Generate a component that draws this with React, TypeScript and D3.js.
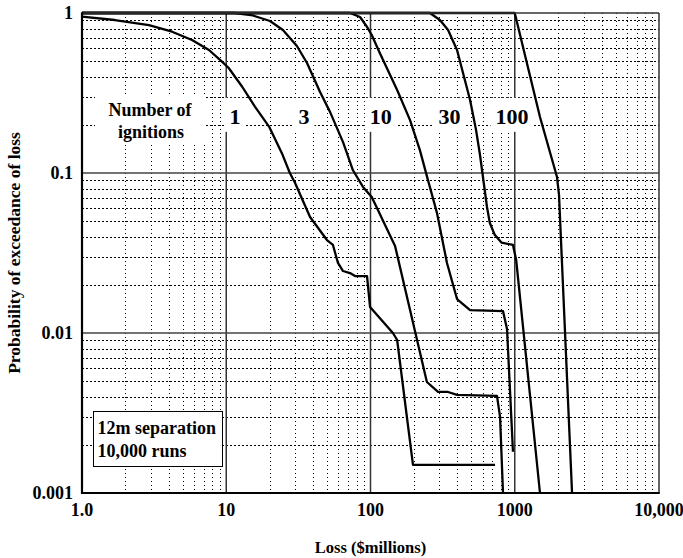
import * as d3 from "d3";
import { useEffect, useRef } from "react";

type Pt = [number, number];

// loss ($millions), probability of exceedance
const oneIgnition: Pt[] = [
  [1, 0.948], [1.69, 0.904], [2.91, 0.841], [4.21, 0.764], [5.79, 0.678],
  [7.59, 0.587], [9.34, 0.496], [10.4, 0.453], [12.9, 0.346], [15.8, 0.26],
  [19.8, 0.195], [24.3, 0.133], [27.6, 0.1], [30.0, 0.0866], [38.1, 0.0531],
  [49.9, 0.0381], [54.9, 0.0355], [59.5, 0.0274], [64.5, 0.0244], [72.1, 0.0237],
  [78.1, 0.0227], [94.6, 0.0227], [99.3, 0.01455], [143, 0.01], [153, 0.00904],
  [197, 0.0015], [730, 0.0015],
];
const threeIgnitions: Pt[] = [
  [1, 1], [11.5, 1], [15.3, 0.965], [20.1, 0.891], [24.7, 0.783], [30.9, 0.622],
  [36.3, 0.487], [44.7, 0.321], [52.4, 0.241], [64.5, 0.156], [75.6, 0.104],
  [88.7, 0.0818], [102, 0.0708], [148, 0.035], [246, 0.00494], [294, 0.00428],
  [345, 0.00428], [398, 0.0041], [753, 0.00405], [791, 0.00299], [829, 0.001],
];
const tenIgnitions: Pt[] = [
  [1, 1], [72.1, 1], [84.6, 0.944], [94.6, 0.818], [102, 0.729], [116, 0.562],
  [153, 0.33], [188, 0.214], [220, 0.139], [250, 0.0906], [289, 0.0562],
  [339, 0.0274], [398, 0.0163], [490, 0.0139], [829, 0.0137], [884, 0.0106],
  [972, 0.00181],
];
const thirtyIgnitions: Pt[] = [
  [1, 1], [258, 1], [303, 0.904], [345, 0.783], [398, 0.587], [438, 0.422],
  [490, 0.286], [539, 0.186], [574, 0.13], [602, 0.0944], [642, 0.0613],
  [672, 0.0487], [726, 0.0411], [811, 0.0367], [972, 0.0355], [1023, 0.0286],
  [1496, 0.001],
];
const hundredIgnitions: Pt[] = [
  [1, 1], [1000, 1], [1496, 0.224], [1963, 0.0944], [2027, 0.0729], [2496, 0.001],
];

const curves = [oneIgnition, threeIgnitions, tenIgnitions, thirtyIgnitions, hundredIgnitions];
const ignitionLabels = ["1", "3", "10", "30", "100"];
const ignitionLabelX = [11.5, 34.6, 118, 353, 957];

const xTicks = [1, 10, 100, 1000, 10000];
const xTickLabels = ["1.0", "10", "100", "1000", "10,000"];
const yTicks = [1, 0.1, 0.01, 0.001];
const yTickLabels = ["1", "0.1", "0.01", "0.001"];
const legendLines = ["12m separation", "10,000 runs"];

const FONT = "'Liberation Serif', 'Times New Roman', serif";

export default function App() {
  const ref = useRef<SVGSVGElement>(null);

  useEffect(() => {
    const width = 683;
    const height = 558;
    const margin = { top: 13, right: 24, bottom: 65, left: 82 };
    const iw = width - margin.left - margin.right;
    const ih = height - margin.top - margin.bottom;

    const svg = d3.select(ref.current);
    svg.selectAll("*").remove();
    svg.attr("font-family", FONT).attr("font-weight", "bold");

    const x = d3.scaleLog().domain([1, 10000]).range([0, iw]);
    const y = d3.scaleLog().domain([0.001, 1]).range([ih, 0]);
    // snap hairlines to pixel centres so the dots stay crisp
    const sx = (v: number) => Math.round(x(v)) + 0.5;
    const sy = (v: number) => Math.round(y(v)) + 0.5;

    const g = svg.append("g").attr("transform", `translate(${margin.left},${margin.top})`);

    // minor grid (2..9 in every decade)
    const minorX: number[] = [];
    for (let k = 0; k < 4; k++) for (let m = 2; m <= 9; m++) minorX.push(m * 10 ** k);
    const minorY: number[] = [];
    for (let k = -3; k < 0; k++) for (let m = 2; m <= 9; m++) minorY.push(m * 10 ** k);

    g.selectAll("line.mx")
      .data(minorX)
      .join("line")
      .attr("x1", (d) => sx(d))
      .attr("x2", (d) => sx(d))
      .attr("y1", 0)
      .attr("y2", ih)
      .attr("stroke", "#000")
      .attr("stroke-width", 1)
      .attr("stroke-dasharray", "1,3");

    g.selectAll("line.my")
      .data(minorY)
      .join("line")
      .attr("x1", 0)
      .attr("x2", iw)
      .attr("y1", (d) => sy(d))
      .attr("y2", (d) => sy(d))
      .attr("stroke", "#000")
      .attr("stroke-width", 1)
      .attr("stroke-dasharray", "2,2");

    // decade lines
    g.selectAll("line.dx")
      .data(xTicks.slice(1, -1))
      .join("line")
      .attr("x1", (d) => x(d))
      .attr("x2", (d) => x(d))
      .attr("y1", 0)
      .attr("y2", ih)
      .attr("stroke", "#333")
      .attr("stroke-width", 1.5);

    g.selectAll("line.dy")
      .data(yTicks.slice(1, -1))
      .join("line")
      .attr("x1", 0)
      .attr("x2", iw)
      .attr("y1", (d) => y(d))
      .attr("y2", (d) => y(d))
      .attr("stroke", "#444")
      .attr("stroke-width", 1.6);

    // "Number of ignitions" label
    const nx = x(2.96);
    const ny = y(0.2);
    g.append("rect")
      .attr("x", nx - 55)
      .attr("y", ny - 30)
      .attr("width", 110)
      .attr("height", 50)
      .attr("fill", "white");
    g.append("text")
      .attr("x", nx)
      .attr("y", ny - 9)
      .attr("text-anchor", "middle")
      .attr("font-size", 18)
      .text("Number of");
    g.append("text")
      .attr("x", nx + 1)
      .attr("y", ny + 13)
      .attr("text-anchor", "middle")
      .attr("font-size", 18)
      .text("ignitions");

    // curve labels with white backing
    const lbl = g
      .selectAll("g.lbl")
      .data(ignitionLabels)
      .join("g")
      .attr("transform", (_, i) => `translate(${x(ignitionLabelX[i])},${y(0.2) - 1})`);
    lbl
      .append("rect")
      .attr("x", (d) => -d.length * 5.5 - 5)
      .attr("y", -26)
      .attr("width", (d) => d.length * 11 + 10)
      .attr("height", 34)
      .attr("fill", "white");
    lbl
      .append("text")
      .attr("text-anchor", "middle")
      .attr("font-size", 22)
      .text((d) => d);

    // curves
    const line = d3
      .line<Pt>()
      .x((d) => x(d[0]))
      .y((d) => y(d[1]));
    g.selectAll("path.curve")
      .data(curves)
      .join("path")
      .attr("class", "curve")
      .attr("d", (d) => line(d))
      .attr("fill", "none")
      .attr("stroke", "#000")
      .attr("stroke-width", 2.3)
      .attr("stroke-linejoin", "round");

    // frame
    g.append("line").attr("x1", 0).attr("x2", iw).attr("y1", 0).attr("y2", 0)
      .attr("stroke", "#333").attr("stroke-width", 1.5);
    g.append("line").attr("x1", iw).attr("x2", iw).attr("y1", 0).attr("y2", ih)
      .attr("stroke", "#333").attr("stroke-width", 1.5);
    g.append("line").attr("x1", 0).attr("x2", 0).attr("y1", -0.75).attr("y2", ih + 1)
      .attr("stroke", "#000").attr("stroke-width", 2.2);
    g.append("line").attr("x1", -1).attr("x2", iw + 0.75).attr("y1", ih).attr("y2", ih)
      .attr("stroke", "#000").attr("stroke-width", 2.2);

    // legend box
    const lg = g.append("g").attr("transform", `translate(11.5,${ih - 81.5})`);
    lg.append("rect")
      .attr("width", 129)
      .attr("height", 55)
      .attr("fill", "white")
      .attr("stroke", "#000")
      .attr("stroke-width", 1);
    lg.selectAll("text")
      .data(legendLines)
      .join("text")
      .attr("x", 4)
      .attr("y", (_, i) => 22 + i * 23)
      .attr("font-size", 18)
      .text((d) => d);

    // tick labels
    g.selectAll("text.xt")
      .data(xTicks)
      .join("text")
      .attr("x", (d) => x(d))
      .attr("y", ih + 23)
      .attr("text-anchor", "middle")
      .attr("font-size", 18)
      .text((_, i) => xTickLabels[i]);

    g.selectAll("text.yt")
      .data(yTicks)
      .join("text")
      .attr("x", -9)
      .attr("y", (d) => y(d) + 6)
      .attr("text-anchor", "end")
      .attr("font-size", 18)
      .text((_, i) => yTickLabels[i]);

    // axis titles
    svg.append("text")
      .attr("x", margin.left + iw / 2)
      .attr("y", height - 5)
      .attr("text-anchor", "middle")
      .attr("font-size", 16.5)
      .text("Loss ($millions)");
    svg.append("text")
      .attr("transform", `translate(20,${margin.top + ih / 2}) rotate(-90)`)
      .attr("text-anchor", "middle")
      .attr("font-size", 17.5)
      .text("Probability of exceedance of loss");
  }, []);

  return (
    <svg
      ref={ref}
      width={683}
      height={558}
      style={{ position: "absolute", left: 0, top: 0, background: "white" }}
    />
  );
}
